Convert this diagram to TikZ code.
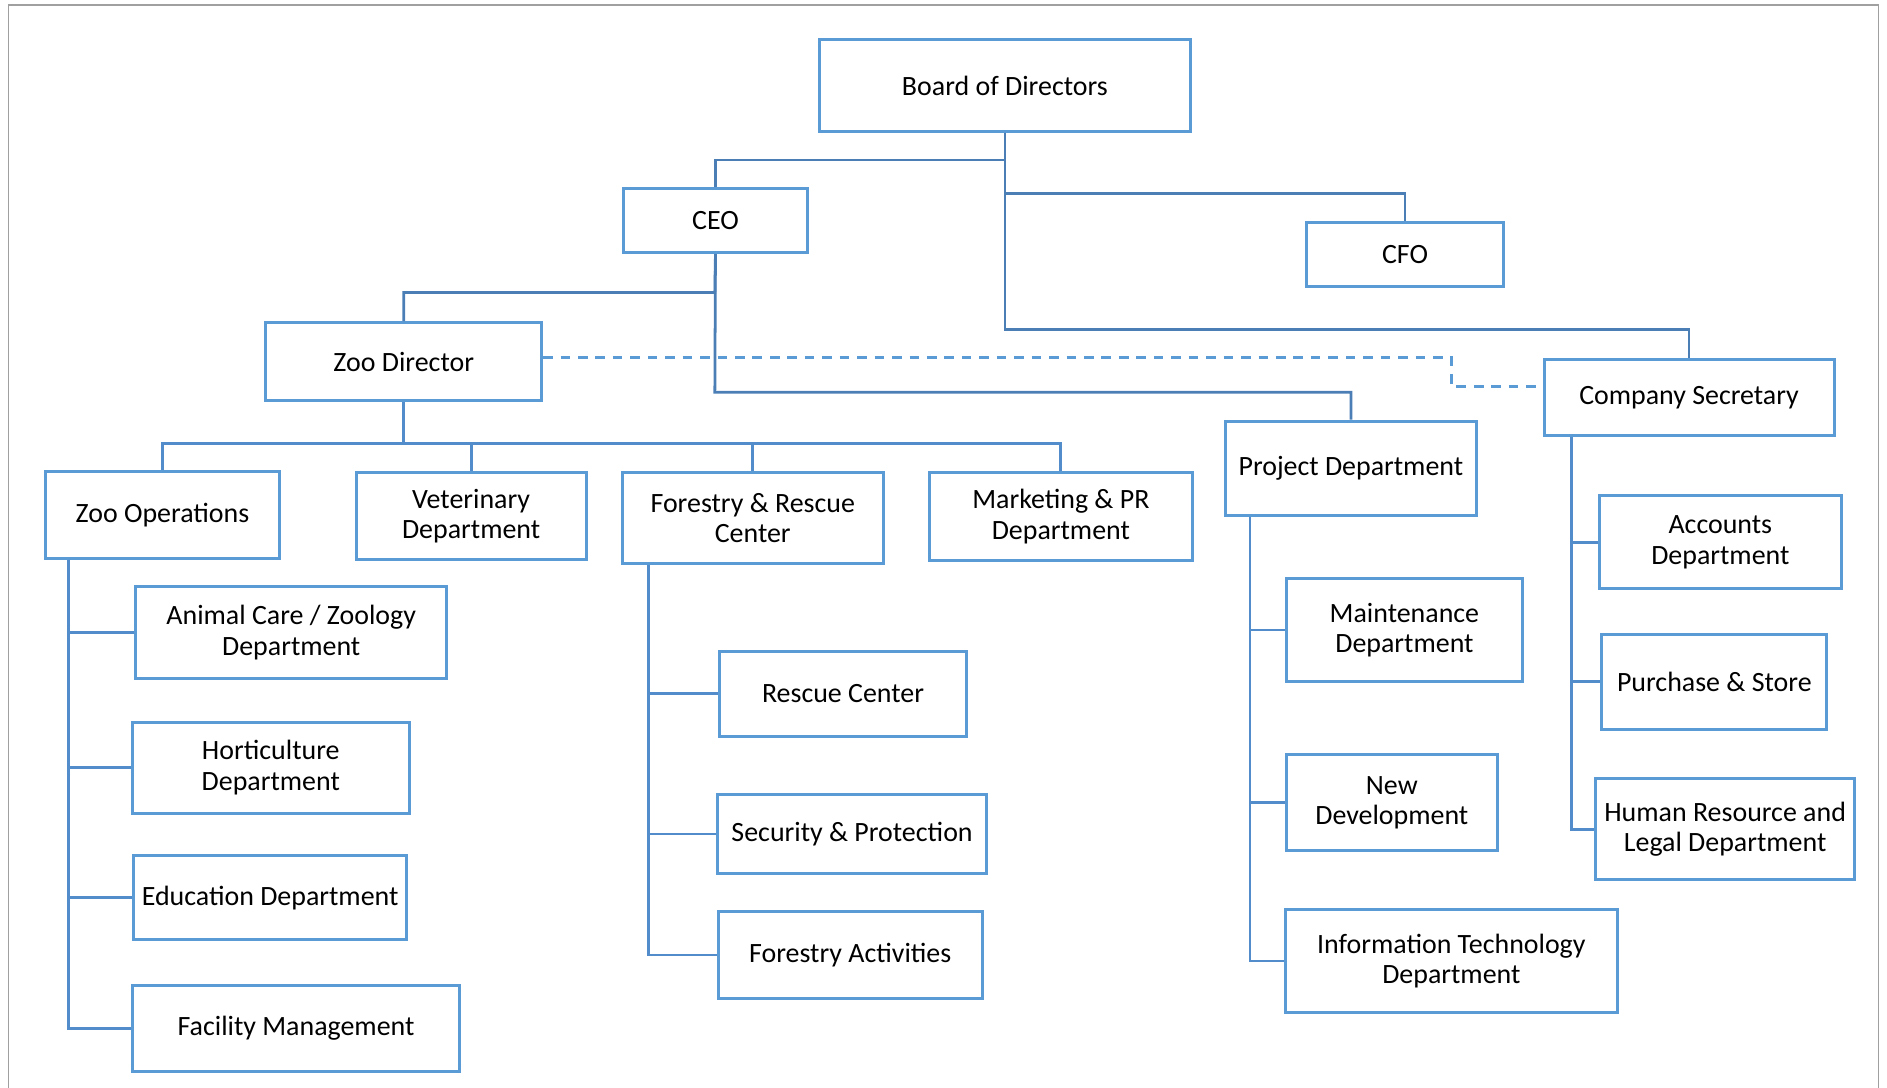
\documentclass[tikz,border=0pt]{standalone}
\usepackage{fontspec}
\setmainfont{Carlito}
\definecolor{boxc}{HTML}{5B9BD5}
\definecolor{connA}{RGB}{74,126,181}
\definecolor{connB}{RGB}{82,140,202}
\definecolor{framec}{RGB}{160,160,160}
\begin{document}
\begin{tikzpicture}[x=1pt,y=-1pt,
  box/.style={draw=boxc, line width=2.5pt, fill=white, rectangle, inner sep=2pt, align=center,
    font=\fontsize{23.2}{25.5}\selectfont, text=black},
  connup/.style={draw=connA, line width=2.3pt},
  conndn/.style={draw=connB, line width=2.3pt},
  dashc/.style={draw=boxc, line width=2.3pt, dash pattern=on 8pt off 6.5pt}]
\useasboundingbox (0,0) rectangle (1568,904);
\draw[framec, line width=1.2pt] (7,904) -- (7,4) -- (1561,4) -- (1561,904);

\coordinate (bA) at (835,133);
\coordinate (bB) at (835,161);
\coordinate (bC) at (835,274);
\coordinate (cA) at (594,243);
\coordinate (cB) at (594,326);
\coordinate (zA) at (335.5,368.5);
\coordinate (dA) at (1206,321);

\node[box, minimum width=308pt, minimum height=76pt] (board) at (835,71) {Board of Directors};
\node[box, minimum width=153pt, minimum height=53pt] (ceo) at (594.5,183.5) {CEO};
\node[box, minimum width=163pt, minimum height=53pt] (cfo) at (1167.5,211.5) {CFO};
\node[box, minimum width=229pt, minimum height=65pt] (zd) at (335.5,300.5) {Zoo Director};
\node[box, minimum width=241pt, minimum height=63pt] (cs) at (1403.5,330.5) {Company Secretary};
\node[box, minimum width=209pt, minimum height=78pt] (pd) at (1122.5,389) {Project Department};
\node[box, minimum width=194pt, minimum height=72pt] (zo) at (135,428) {Zoo Operations};
\node[box, minimum width=191pt, minimum height=72pt] (vet) at (391.5,429) {Veterinary\\Department};
\node[box, minimum width=217pt, minimum height=75pt] (frc) at (625.5,430.5) {Forestry \& Rescue\\Center};
\node[box, minimum width=219pt, minimum height=73pt] (mkt) at (881.5,429.5) {Marketing \& PR\\Department};
\node[box, minimum width=258pt, minimum height=77pt] (ac) at (242,525.5) {Animal Care / Zoology\\Department};
\node[box, minimum width=230pt, minimum height=76pt] (hort) at (225,638) {Horticulture\\Department};
\node[box, minimum width=227pt, minimum height=70pt] (edu) at (224.5,746) {Education Department};
\node[box, minimum width=272pt, minimum height=71pt] (fac) at (246,854.5) {Facility Management};
\node[box, minimum width=205pt, minimum height=71pt] (rc) at (700.5,576.5) {Rescue Center};
\node[box, minimum width=224pt, minimum height=66pt] (sec) at (708,693) {Security \& Protection};
\node[box, minimum width=219pt, minimum height=73pt] (fa) at (706.5,793.5) {Forestry Activities};
\node[box, minimum width=196pt, minimum height=85pt] (maint) at (1167,523.5) {Maintenance\\Department};
\node[box, minimum width=175pt, minimum height=80pt] (nd) at (1156.5,667) {New\\Development};
\node[box, minimum width=276pt, minimum height=85pt] (it) at (1206,798.5) {Information Technology\\Department};
\node[box, minimum width=201pt, minimum height=77pt] (acc) at (1429.5,450.5) {Accounts\\Department};
\node[box, minimum width=187pt, minimum height=79pt] (pur) at (1424.5,566.5) {Purchase \& Store};
\node[box, minimum width=215pt, minimum height=84pt] (hr) at (1433.5,689) {Human Resource and\\Legal Department};

% upper connectors
\draw[connup] (board.south) -- (bA) -| (ceo.north);
\draw[connup] (board.south) -- (bB) -| (cfo.north);
\draw[connup] (board.south) -- (bC) -| (cs.north);
\draw[connup] (ceo.south) -- (cA) -| (zd.north);
\draw[connup] (ceo.south) -- (cB) -| (pd.north);
\draw[dashc] ([yshift=3.5pt]zd.east) -| (dA) -- ([yshift=9.5pt]cs.west);

% zoo director children
\draw[conndn] (zd.south) -- (zA) -| (zo.north);
\draw[conndn] (zd.south) -- (zA) -| (vet.north);
\draw[conndn] (zd.south) -- (zA) -| (frc.north);
\draw[conndn] (zd.south) -- (zA) -| (mkt.north);

% department trees
\foreach \c in {ac,hort,edu,fac} \draw[conndn] ([xshift=20pt]zo.south west) |- (\c.west);
\foreach \c in {rc,sec,fa} \draw[conndn] ([xshift=23pt]frc.south west) |- (\c.west);
\foreach \c in {maint,nd,it} \draw[conndn] ([xshift=22pt]pd.south west) |- (\c.west);
\foreach \c in {acc,pur,hr} \draw[conndn] ([xshift=24pt]cs.south west) |- (\c.west);
\end{tikzpicture}
\end{document}
